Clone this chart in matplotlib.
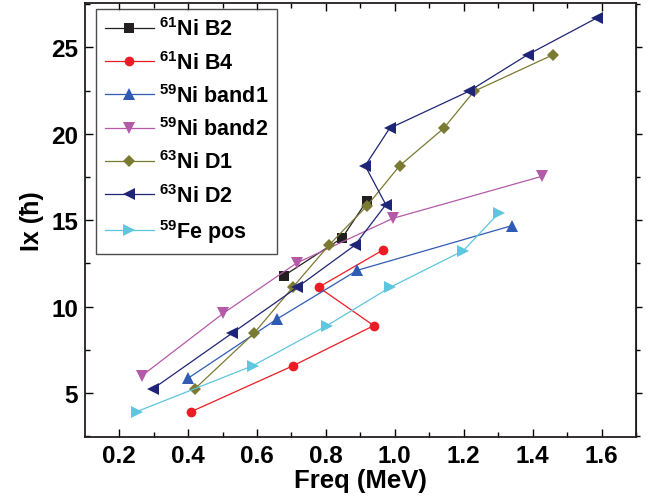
"""
Ix versus rotational frequency for bands in 59,61,63Ni and 59Fe.
"""

import matplotlib
matplotlib.use("Agg")
import matplotlib.pyplot as plt
from matplotlib.ticker import MultipleLocator

plt.rcParams['font.family'] = ['Liberation Sans', 'DejaVu Sans']
plt.rcParams['font.weight'] = 'bold'
plt.rcParams['mathtext.fontset'] = 'custom'
plt.rcParams['mathtext.rm'] = 'Liberation Sans:bold'
plt.rcParams['mathtext.default'] = 'rm'

# Band data: rotational frequency (MeV) and aligned spin Ix (hbar)
b2_freq = [0.679, 0.847, 0.918]
b2_ix = [11.80, 13.97, 16.09]

b4_freq = [0.409, 0.705, 0.939, 0.779, 0.966]
b4_ix = [3.92, 6.58, 8.90, 11.12, 13.28]

band1_freq = [0.401, 0.658, 0.891, 1.339]
band1_ix = [5.87, 9.28, 12.10, 14.68]

band2_freq = [0.266, 0.502, 0.715, 0.995, 1.427]
band2_ix = [6.00, 9.61, 12.52, 15.11, 17.54]

d1_freq = [0.419, 0.591, 0.704, 0.810, 0.918, 1.014, 1.142, 1.230, 1.460]
d1_ix = [5.23, 8.45, 11.12, 13.58, 15.80, 18.15, 20.32, 22.46, 24.58]

d2_freq = [0.297, 0.527, 0.717, 0.884, 0.974, 0.914, 0.985, 1.215, 1.386, 1.586]
d2_ix = [5.23, 8.45, 11.12, 13.55, 15.90, 18.15, 20.32, 22.46, 24.58, 26.70]

fe_freq = [0.251, 0.588, 0.803, 0.987, 1.199, 1.301]
fe_ix = [3.92, 6.58, 8.90, 11.12, 13.24, 15.40]

series = [
    (b2_freq, b2_ix, r'$^{61}$Ni B2', '#231f20', 's', 6.5),
    (b4_freq, b4_ix, r'$^{61}$Ni B4', '#ed1c24', 'o', 7),
    (band1_freq, band1_ix, r'$^{59}$Ni band1', '#2f5bb5', '^', 8),
    (band2_freq, band2_ix, r'$^{59}$Ni band2', '#b55aa8', 'v', 8),
    (d1_freq, d1_ix, r'$^{63}$Ni D1', '#7b7a33', 'D', 6.5),
    (d2_freq, d2_ix, r'$^{63}$Ni D2', '#1f2576', '<', 8),
    (fe_freq, fe_ix, r'$^{59}$Fe pos', '#5ec6de', '>', 8),
]

fig = plt.figure(figsize=(6.55, 5.02), dpi=100)
ax = fig.add_axes([0.1298, 0.128, 0.8412, 0.8634])

for x, y, label, color, marker, ms in series:
    ax.plot(x, y, color=color, marker=marker, markersize=ms, linewidth=0.9,
            markeredgewidth=0, label=label)

ax.set_xlim(0.101, 1.70)
ax.set_ylim(2.47, 27.55)

ax.xaxis.set_minor_locator(MultipleLocator(0.1))
ax.yaxis.set_major_locator(MultipleLocator(5))
ax.yaxis.set_minor_locator(MultipleLocator(2.5))
ax.set_xticks([0.2, 0.4, 0.6, 0.8, 1.0, 1.2, 1.4, 1.6])
ax.set_xticklabels(['0.2', '0.4', '0.6', '0.8', '1.0', '1.2', '1.4', '1.6'])

ax.tick_params(axis='both', which='major', direction='in', length=6, width=1,
               labelsize=17.5, pad=5)
ax.tick_params(axis='both', which='minor', direction='in', length=3.5, width=1)
ax.tick_params(axis='x', which='both', top=True)

# mirrored ticks on the right side point outward
sec = ax.secondary_yaxis('right')
sec.yaxis.set_major_locator(MultipleLocator(5))
sec.yaxis.set_minor_locator(MultipleLocator(2.5))
sec.tick_params(which='major', direction='out', length=4, width=1, labelright=False)
sec.tick_params(which='minor', direction='out', length=3, width=1)

for sp in ax.spines.values():
    sp.set_linewidth(1.3)
    sp.set_color('#231f20')

ax.set_xlabel('Freq (MeV)', fontsize=18.5, fontweight='bold', labelpad=1)
ax.set_ylabel('Ix (ħ)', fontsize=18, fontweight='bold', labelpad=5)

leg = ax.legend(loc='upper left', bbox_to_anchor=(0.02, 0.988), fontsize=15.5,
                frameon=True, fancybox=False, handlelength=2.25, handletextpad=0.25,
                labelspacing=0.48, borderpad=0.42, borderaxespad=0)
leg.get_frame().set_edgecolor('#231f20')
leg.get_frame().set_linewidth(1.0)

fig.savefig('out.png', dpi=100)
